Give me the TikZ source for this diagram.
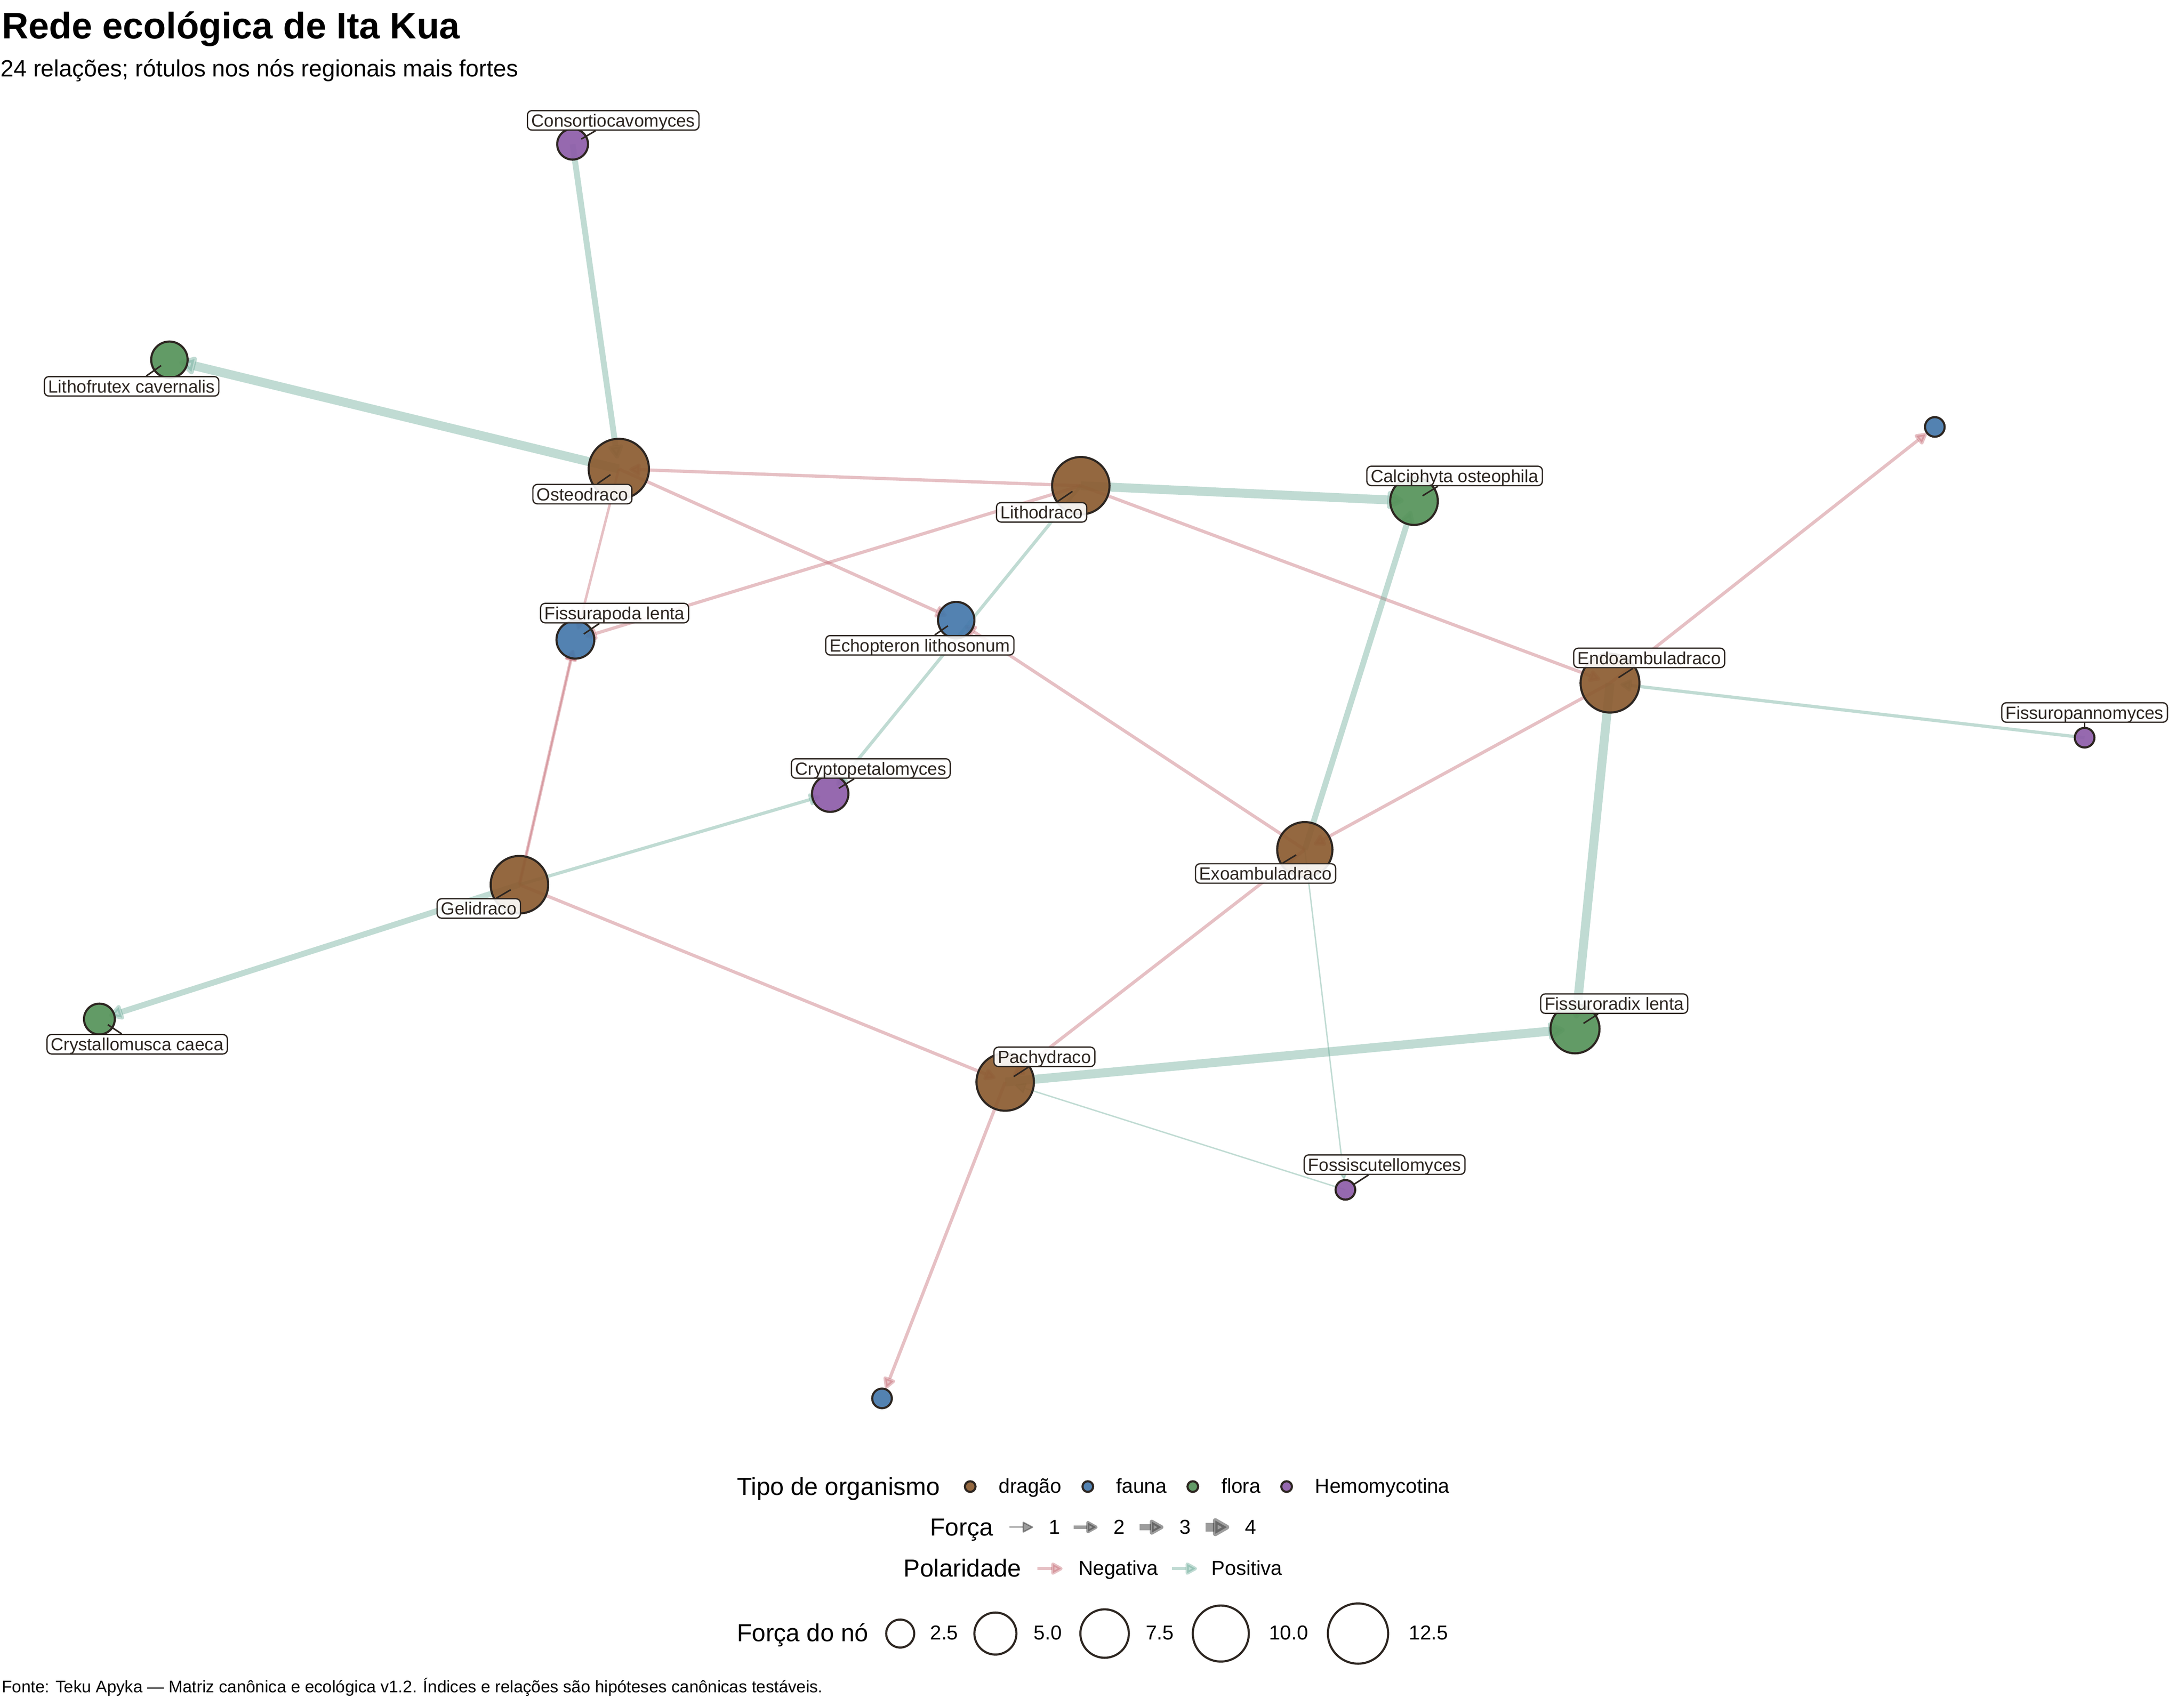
\documentclass[tikz,border=0pt]{standalone}
\usepackage{fontspec}
\setmainfont{Liberation Sans}
\usetikzlibrary{arrows.meta,positioning}
\pgfdeclarelayer{fundo}
\pgfdeclarelayer{frente}
\pgfdeclarelayer{topo}
\pgfsetlayers{fundo,main,frente,topo}

\definecolor{dragao}{HTML}{8C5D32}
\definecolor{fauna}{HTML}{4679AB}
\definecolor{flora}{HTML}{56935A}
\definecolor{hemo}{HTML}{8E5EA9}
\definecolor{contorno}{HTML}{2D2621}
\definecolor{corneg}{HTML}{BE5A64}
\definecolor{corpos}{HTML}{5AA08C}

\tikzset{
  no/.style={circle, draw=contorno, line width=0.75pt, inner sep=0pt, fill opacity=0.93, minimum size=#1*0.03517cm},
  ponta/.style={-{Triangle[length=3.6pt 1, width=3.6pt 1.1, round]}},
  rel/.style={opacity=0.38, shorten >=3.7pt, ponta},
  negativa/.style={draw=corneg},
  positiva/.style={draw=corpos},
  f1/.style={line width=0.5pt},
  f2/.style={line width=1.15pt},
  f3/.style={line width=2.1pt},
  f4/.style={line width=3.2pt},
  guia/.style={draw=contorno, line width=0.55pt, shorten <=3.6pt},
  rotulo/.style={draw=contorno, fill=white, fill opacity=0.9, text opacity=1, rounded corners=1.6pt,
    line width=0.45pt, inner xsep=1.4pt, inner ysep=1.2pt, text height=4.55pt, text depth=0pt,
    font=\fontsize{6.3}{7}\selectfont, text=contorno},
  legtit/.style={anchor=base west, inner sep=0pt, font=\fontsize{8.8}{10}\selectfont},
  legtxt/.style={anchor=base west, inner sep=0pt, font=\fontsize{7.2}{8}\selectfont},
  legseta/.style={opacity=0.45, draw=black!85, ponta},
}

\begin{document}
\begin{tikzpicture}[x=0.017585cm, y=-0.017585cm]
  \useasboundingbox (0,0) rectangle (1560,1213);

  % Título
  \node[anchor=base west, inner sep=0pt, font=\bfseries\fontsize{13.2}{15}\selectfont] (titulo) at (1,27.7) {Rede ecológica de Ita Kua};
  \node[anchor=base west, inner sep=0pt, font=\fontsize{8.4}{10}\selectfont] (subtitulo) at (0,54.6) {24 relações; rótulos nos nós regionais mais fortes};

  % Nós
  \node[no=11, fill=hemo] (consort) at (409,103) {};
  \node[no=13, fill=flora] (lithofr) at (121,257) {};
  \node[no=21.5, fill=dragao] (osteo) at (442,335) {};
  \node[no=20.5, fill=dragao] (lithod) at (772,347) {};
  \node[no=17, fill=flora] (calci) at (1010,358) {};
  \node[no=7, fill=fauna] (faunaA) at (1382,305) {};
  \node[no=13.5, fill=fauna] (fissurap) at (411,457) {};
  \node[no=13, fill=fauna] (echop) at (683,443) {};
  \node[no=21, fill=dragao] (endo) at (1150,488) {};
  \node[no=7, fill=hemo] (fissuropan) at (1489,527) {};
  \node[no=13, fill=hemo] (crypto) at (593,567) {};
  \node[no=19.7, fill=dragao] (exo) at (932,607) {};
  \node[no=20.5, fill=dragao] (gelid) at (371,632) {};
  \node[no=11, fill=flora] (crystal) at (71,728) {};
  \node[no=17.5, fill=flora] (fissurorad) at (1125,735) {};
  \node[no=20.5, fill=dragao] (pachy) at (718,773) {};
  \node[no=7, fill=hemo] (fossi) at (961,850) {};
  \node[no=7, fill=fauna] (faunaB) at (630,999) {};

  % Relações
  \begin{pgfonlayer}{fundo}
    \draw[rel, positiva, f3] (consort.center) -- (osteo.center);
    \draw[rel, positiva, f4] (osteo.center) -- (lithofr.center);
    \draw[rel, negativa, f2] (lithod.center) -- (osteo.center);
    \draw[rel, negativa, line width=0.9pt] (osteo.center) -- (fissurap.center);
    \draw[rel, negativa, f2] (osteo.center) -- (echop.center);
    \draw[rel, positiva, f4] (lithod.center) -- (calci.center);
    \draw[rel, negativa, f2] (lithod.center) -- (fissurap.center);
    \draw[rel, positiva, f2] (lithod.center) -- (crypto.center);
    \draw[rel, negativa, f2] (lithod.center) -- (endo.center);
    \draw[rel, positiva, f3] (exo.center) -- (calci.center);
    \draw[rel, negativa, f2] (endo.center) -- (faunaA.center);
    \draw[rel, positiva, f2] (fissuropan.center) -- (endo.center);
    \draw[rel, negativa, f2] (endo.center) -- (exo.center);
    \draw[rel, positiva, f4] (endo.center) -- (fissurorad.center);
    \draw[rel, negativa, f2] (exo.center) -- (echop.center);
    \draw[rel, negativa, f2] (exo.center) -- (pachy.center);
    \draw[rel, positiva, f1] (exo.center) -- (fossi.center);
    \draw[rel, negativa, f2] (gelid.center) -- (fissurap.center);
    \draw[rel, negativa, f1] (gelid.center) -- (fissurap.center);
    \draw[rel, positiva, f2] (gelid.center) -- (crypto.center);
    \draw[rel, positiva, f3] (gelid.center) -- (crystal.center);
    \draw[rel, negativa, f2] (gelid.center) -- (pachy.center);
    \draw[rel, positiva, f4] (pachy.center) -- (fissurorad.center);
    \draw[rel, positiva, f1] (fossi.center) -- (pachy.center);
    \draw[rel, negativa, f2] (pachy.center) -- (faunaB.center);
  \end{pgfonlayer}

  % Rótulos
  \foreach \n/\x/\y/\txt in {consort/438/86/Consortiocavomyces, lithofr/94/276/Lithofrutex cavernalis,
      osteo/416/353/Osteodraco, lithod/744/366/Lithodraco, calci/1039/340/Calciphyta osteophila,
      fissurap/439/438/Fissurapoda lenta, echop/657/461/Echopteron lithosonum,
      endo/1178/470/Endoambuladraco, fissuropan/1489/509/Fissuropannomyces,
      crypto/622/549/Cryptopetalomyces, exo/904/624/Exoambuladraco, gelid/342/649/Gelidraco,
      crystal/98/746/Crystallomusca caeca, fissurorad/1153/717/Fissuroradix lenta,
      pachy/746/755/Pachydraco, fossi/989/832/Fossiscutellomyces} {
    \begin{pgfonlayer}{topo}
      \node[rotulo] (\n-l) at (\x,\y) {\txt};
    \end{pgfonlayer}
    \begin{pgfonlayer}{frente}
      \draw[guia] (\n.center) -- (\n-l);
    \end{pgfonlayer}
  }

  % Legenda: tipo de organismo
  \node[legtit] (tipo) at (526,1068) {Tipo de organismo};
  \foreach \cor/\x/\txt in {dragao/693/dragão, fauna/777/fauna, flora/852/flora, hemo/919/Hemomycotina} {
    \node[no=3.8, fill=\cor] (lg-\cor) at (\x,1062) {};
    \node[legtxt] (lt-\cor) at (\x+20,1066.5) {\txt};
  }

  % Legenda: força
  \node[legtit] (forca) at (664,1097) {Força};
  \foreach \k/\x in {1/721, 2/767, 3/814, 4/861} {
    \coordinate (fa\k) at (\x,1091);
    \coordinate (fb\k) at (\x+17,1091);
    \draw[legseta, f\k] (fa\k) -- (fb\k);
    \node[legtxt] (ft\k) at (\x+28,1096) {\k};
  }

  % Legenda: polaridade
  \node[legtit] (polar) at (645,1126.6) {Polaridade};
  \coordinate (pa1) at (741,1120.6);
  \coordinate (pb1) at (759,1120.6);
  \coordinate (pa2) at (837,1120.6);
  \coordinate (pb2) at (855,1120.6);
  \draw[rel, negativa, f2, shorten >=0pt] (pa1) -- (pb1);
  \draw[rel, positiva, f2, shorten >=0pt] (pa2) -- (pb2);
  \node[legtxt] (neg-t) at (770,1125.3) {Negativa};
  \node[legtxt] (pos-t) at (865,1125.3) {Positiva};

  % Legenda: força do nó
  \node[legtit] (forcano) at (526,1172.5) {Força do nó};
  \foreach \r/\x/\tx/\txt in {10/643/664/2.5, 15/711/738/5.0, 17.3/789/818/7.5, 20/872/906/10.0, 21.5/970/1006/12.5} {
    \node[no=\r, fill opacity=0] (cn\x) at (\x,1167) {};
    \node[legtxt] (ct\x) at (\tx,1171.5) {\txt};
  }

  % Fonte
  \node[anchor=base west, inner sep=0pt, font=\fontsize{6}{7}\selectfont] (fonte) at (1,1209) {Fonte: Teku Apyka — Matriz canônica e ecológica v1.2. Índices e relações são hipóteses canônicas testáveis.};
\end{tikzpicture}
\end{document}
